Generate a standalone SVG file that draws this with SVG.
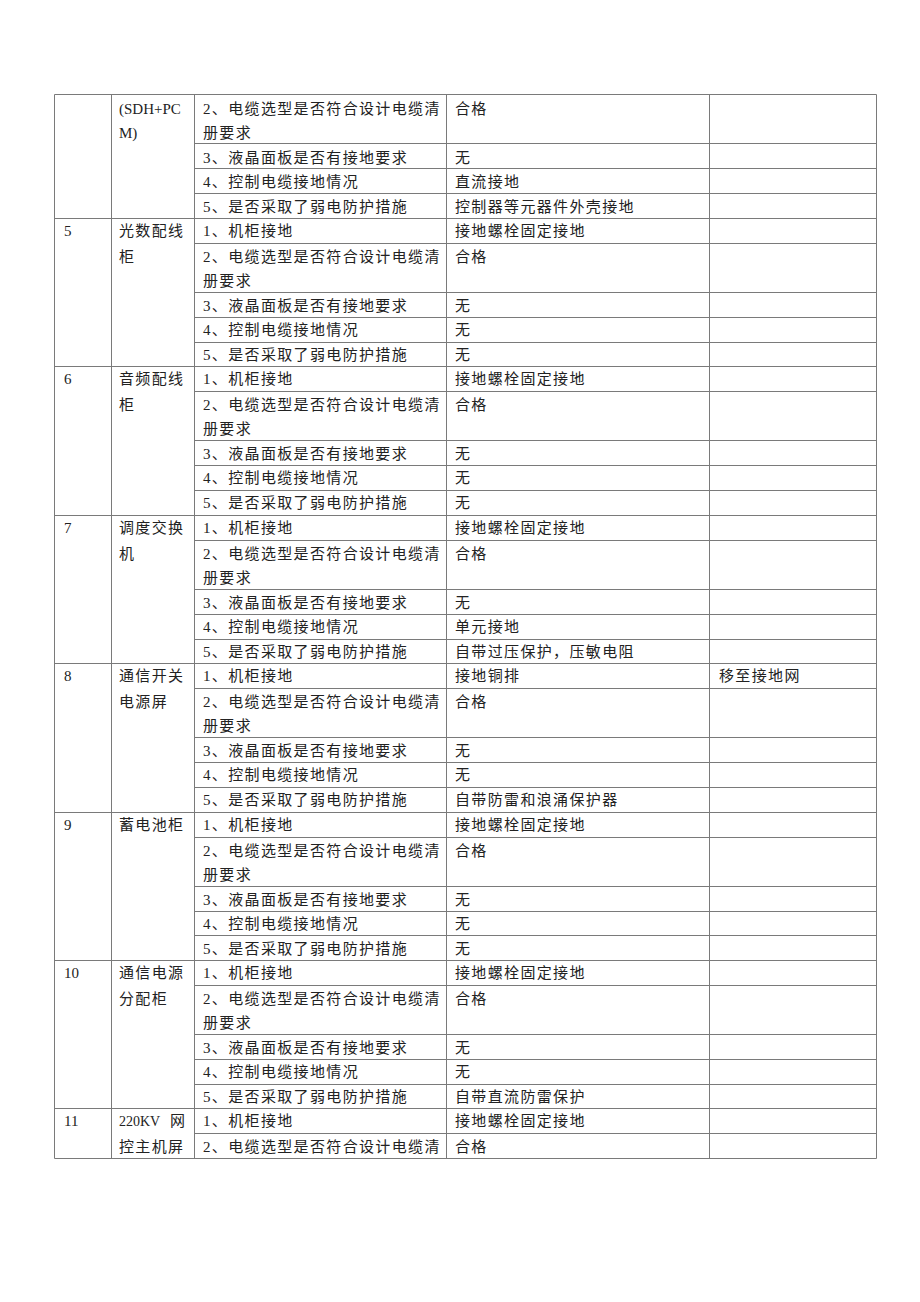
<svg xmlns="http://www.w3.org/2000/svg" width="920" height="1302" viewBox="0 0 920 1302">
<style>
.bg{fill:#ffffff}
.ln{stroke:#7a7a7a;stroke-width:1;fill:none}
text{font-family:"Liberation Serif","Noto Sans CJK SC",serif;font-size:15px;fill:#222;letter-spacing:1.35px}
.lat{letter-spacing:0px}
.k{font-size:14px}
</style>
<rect class="bg" x="0" y="0" width="920" height="1302"/>
<g id="connectors">
<path class="ln" d="M54.5 94.5H876.5M54.5 218.5H876.5M54.5 366.5H876.5M54.5 515.5H876.5M54.5 663.5H876.5M54.5 812.5H876.5M54.5 960.5H876.5M54.5 1108.5H876.5M54.5 1158.5H876.5"/>
<path class="ln" d="M194.5 143.5H876.5M194.5 168.5H876.5M194.5 193.5H876.5
M194.5 243.5H876.5M194.5 292.5H876.5M194.5 317.5H876.5M194.5 342.5H876.5
M194.5 391.5H876.5M194.5 440.5H876.5M194.5 465.5H876.5M194.5 490.5H876.5
M194.5 540.5H876.5M194.5 589.5H876.5M194.5 614.5H876.5M194.5 639.5H876.5
M194.5 688.5H876.5M194.5 737.5H876.5M194.5 762.5H876.5M194.5 787.5H876.5
M194.5 837.5H876.5M194.5 886.5H876.5M194.5 911.5H876.5M194.5 935.5H876.5
M194.5 985.5H876.5M194.5 1034.5H876.5M194.5 1059.5H876.5M194.5 1084.5H876.5
M194.5 1133.5H876.5"/>
<path class="ln" d="M54.5 94.5V1158.5M111.5 94.5V1158.5M194.5 94.5V1158.5M446.5 94.5V1158.5M709.5 94.5V1158.5M876.5 94.5V1158.5"/>
</g>
<g id="sec4" transform="translate(0,69.6)">
<text class="lat" x="119" y="44">(SDH+PC</text>
<text class="lat" x="119" y="68">M)</text>
<text x="203" y="44">2、电缆选型是否符合设计电缆清</text>
<text x="203" y="68">册要求</text>
<text x="203" y="93">3、液晶面板是否有接地要求</text>
<text x="203" y="117">4、控制电缆接地情况</text>
<text x="203" y="142">5、是否采取了弱电防护措施</text>
<text x="455" y="44">合格</text>
<text x="455" y="93">无</text>
<text x="455" y="117">直流接地</text>
<text x="455" y="142">控制器等元器件外壳接地</text>
</g>
<g id="sec5" transform="translate(0,218)">
<text class="lat" x="64" y="18">5</text>
<text x="119" y="18">光数配线</text>
<text x="119" y="44">柜</text>
<text x="203" y="18">1、机柜接地</text>
<text x="203" y="44">2、电缆选型是否符合设计电缆清</text>
<text x="203" y="68">册要求</text>
<text x="203" y="93">3、液晶面板是否有接地要求</text>
<text x="203" y="117">4、控制电缆接地情况</text>
<text x="203" y="142">5、是否采取了弱电防护措施</text>
<text x="455" y="18">接地螺栓固定接地</text>
<text x="455" y="44">合格</text>
<text x="455" y="93">无</text>
<text x="455" y="117">无</text>
<text x="455" y="142">无</text>
</g>
<g id="sec6" transform="translate(0,366.4)">
<text class="lat" x="64" y="18">6</text>
<text x="119" y="18">音频配线</text>
<text x="119" y="44">柜</text>
<text x="203" y="18">1、机柜接地</text>
<text x="203" y="44">2、电缆选型是否符合设计电缆清</text>
<text x="203" y="68">册要求</text>
<text x="203" y="93">3、液晶面板是否有接地要求</text>
<text x="203" y="117">4、控制电缆接地情况</text>
<text x="203" y="142">5、是否采取了弱电防护措施</text>
<text x="455" y="18">接地螺栓固定接地</text>
<text x="455" y="44">合格</text>
<text x="455" y="93">无</text>
<text x="455" y="117">无</text>
<text x="455" y="142">无</text>
</g>
<g id="sec7" transform="translate(0,514.8)">
<text class="lat" x="64" y="18">7</text>
<text x="119" y="18">调度交换</text>
<text x="119" y="44">机</text>
<text x="203" y="18">1、机柜接地</text>
<text x="203" y="44">2、电缆选型是否符合设计电缆清</text>
<text x="203" y="68">册要求</text>
<text x="203" y="93">3、液晶面板是否有接地要求</text>
<text x="203" y="117">4、控制电缆接地情况</text>
<text x="203" y="142">5、是否采取了弱电防护措施</text>
<text x="455" y="18">接地螺栓固定接地</text>
<text x="455" y="44">合格</text>
<text x="455" y="93">无</text>
<text x="455" y="117">单元接地</text>
<text x="455" y="142">自带过压保护，压敏电阻</text>
</g>
<g id="sec8" transform="translate(0,663.2)">
<text class="lat" x="64" y="18">8</text>
<text x="119" y="18">通信开关</text>
<text x="119" y="44">电源屏</text>
<text x="203" y="18">1、机柜接地</text>
<text x="203" y="44">2、电缆选型是否符合设计电缆清</text>
<text x="203" y="68">册要求</text>
<text x="203" y="93">3、液晶面板是否有接地要求</text>
<text x="203" y="117">4、控制电缆接地情况</text>
<text x="203" y="142">5、是否采取了弱电防护措施</text>
<text x="455" y="18">接地铜排</text>
<text x="455" y="44">合格</text>
<text x="455" y="93">无</text>
<text x="455" y="117">无</text>
<text x="455" y="142">自带防雷和浪涌保护器</text>
<text x="719" y="18">移至接地网</text>
</g>
<g id="sec9" transform="translate(0,811.6)">
<text class="lat" x="64" y="18">9</text>
<text x="119" y="18">蓄电池柜</text>
<text x="203" y="18">1、机柜接地</text>
<text x="203" y="44">2、电缆选型是否符合设计电缆清</text>
<text x="203" y="68">册要求</text>
<text x="203" y="93">3、液晶面板是否有接地要求</text>
<text x="203" y="117">4、控制电缆接地情况</text>
<text x="203" y="142">5、是否采取了弱电防护措施</text>
<text x="455" y="18">接地螺栓固定接地</text>
<text x="455" y="44">合格</text>
<text x="455" y="93">无</text>
<text x="455" y="117">无</text>
<text x="455" y="142">无</text>
</g>
<g id="sec10" transform="translate(0,960)">
<text class="lat" x="64" y="18">10</text>
<text x="119" y="18">通信电源</text>
<text x="119" y="44">分配柜</text>
<text x="203" y="18">1、机柜接地</text>
<text x="203" y="44">2、电缆选型是否符合设计电缆清</text>
<text x="203" y="68">册要求</text>
<text x="203" y="93">3、液晶面板是否有接地要求</text>
<text x="203" y="117">4、控制电缆接地情况</text>
<text x="203" y="142">5、是否采取了弱电防护措施</text>
<text x="455" y="18">接地螺栓固定接地</text>
<text x="455" y="44">合格</text>
<text x="455" y="93">无</text>
<text x="455" y="117">无</text>
<text x="455" y="142">自带直流防雷保护</text>
</g>
<g id="sec11" transform="translate(0,1108.4)">
<text class="lat" x="64" y="18">11</text>
<text x="119" y="18"><tspan class="lat k">220KV</tspan><tspan x="170">网</tspan></text>
<text x="119" y="44">控主机屏</text>
<text x="203" y="18">1、机柜接地</text>
<text x="203" y="44">2、电缆选型是否符合设计电缆清</text>
<text x="455" y="18">接地螺栓固定接地</text>
<text x="455" y="44">合格</text>
</g>
</svg>
